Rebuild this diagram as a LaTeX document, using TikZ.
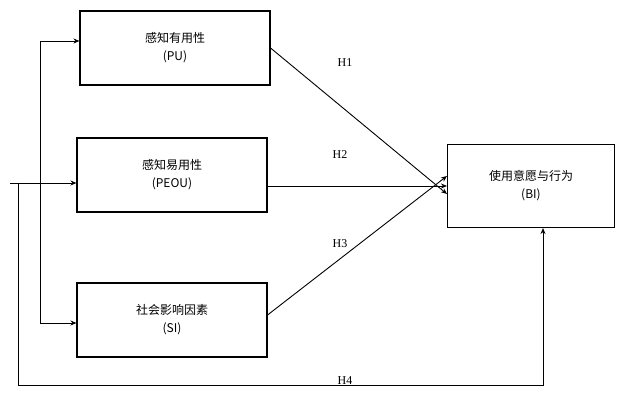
\documentclass[tikz,border=0pt]{standalone}
\usepackage{fontspec}
\setmainfont{Liberation Serif}
\newfontfamily\cjk{Noto Sans CJK SC}
\usetikzlibrary{arrows.meta}
\begin{document}
\begin{tikzpicture}[x=1pt,y=-1pt,
  var/.style={draw,line width=1.1pt,minimum width=190pt,minimum height=74pt,align=center,font=\cjk\fontsize{12}{18}\selectfont,inner sep=0pt},
  conn/.style={line width=0.9pt,-{Stealth[length=6pt,width=5pt]}},
  plain/.style={line width=0.9pt},
  lab/.style={font=\fontsize{12}{14}\selectfont}]
\useasboundingbox (0,0) rectangle (630,414);
\node[var] (pu) at (175,48) {感知有用性\\(PU)};
\node[var] (peou) at (172,175) {感知易用性\\(PEOU)};
\node[var] (si) at (172,320) {社会影响因素\\(SI)};
\node[var,minimum width=167pt,minimum height=83pt] (bi) at (531,186) {使用意愿与行为\\(BI)};
\coordinate (t) at (40,41);
\coordinate (b) at (40,323);
\coordinate (l) at (10,183);
\coordinate (l2) at (18,183);
\coordinate (bl) at (18,385);
\coordinate (br) at (543,385);
\draw[plain] (t) -- (b);
\draw[conn] (t) -- (t -| pu.west);
\draw[conn] (b) -- (b -| si.west);
\draw[conn] (l) -- (l -| peou.west);
\draw[conn] (l2) -- (bl) -- (br) -- (br |- bi.south);
\draw[conn] (pu.east) -- ([yshift=-8pt]bi.west);
\draw[conn] (peou.east |- bi.west) -- (bi.west);
\draw[conn] ([yshift=5pt]si.east) -- ([yshift=10pt]bi.west);
\node[lab] (h1) at (345,63) {H1};
\node[lab] (h2) at (340,155) {H2};
\node[lab] (h3) at (340,244) {H3};
\node[lab] (h4) at (345,381) {H4};
\end{tikzpicture}
\end{document}
